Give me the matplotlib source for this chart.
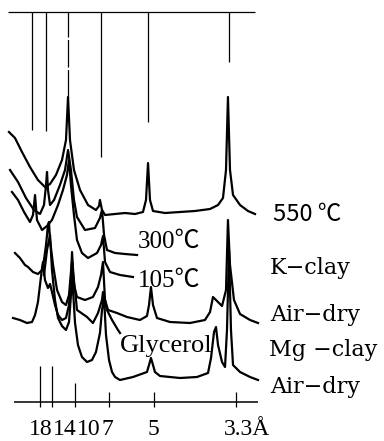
import numpy as np
import matplotlib.pyplot as plt

# XRD patterns (Cu Ka), x = 2theta in degrees, y = stacked intensity (arb. units)
# K-clay 550 C
tt_550 = [1.40, 2.08, 2.87, 3.77, 4.67, 5.46, 6.03, 6.70, 7.38, 7.83, 8.06, 8.28, 8.73, 9.41,
          10.31, 11.21, 11.55, 11.66, 11.89, 12.23, 13.36, 14.48, 15.61, 16.51, 16.85, 17.08,
          17.30, 17.64, 19.00, 20.68, 22.37, 24.07, 24.97, 25.53, 25.87, 26.09, 26.32, 26.66,
          27.45, 28.35, 29.14]
I_550 = [270, 264, 250, 235, 222, 215, 218, 227, 242, 262, 305, 262, 232, 212,
         197, 192, 196, 202, 192, 187, 188, 189, 188, 190, 202, 239,
         202, 191, 189, 190, 191, 193, 197, 204, 232, 305, 232, 207,
         197, 191, 188]

# K-clay 300 C
tt_300 = [1.52, 2.42, 3.32, 4.22, 4.90, 5.35, 5.58, 5.69, 5.80, 6.03, 6.48, 7.15, 7.72, 8.06,
          8.39, 8.73, 9.07, 9.97, 11.10, 11.66, 11.89, 12.12, 12.45, 13.36, 14.48, 15.84]
I_300 = [232, 220, 204, 192, 188, 197, 217, 230, 212, 197, 202, 217, 232, 252,
         232, 202, 185, 172, 174, 184, 192, 167, 152, 149, 148, 147]

# K-clay 105 C
tt_105 = [1.74, 2.42, 3.10, 3.77, 4.11, 4.34, 4.56, 5.13, 5.69, 6.25, 6.93, 7.49, 7.94, 8.17,
          8.39, 8.73, 9.07, 9.63, 10.31, 11.33, 11.78, 12.00, 12.23, 12.79, 13.92, 15.38]
I_105 = [210, 202, 190, 180, 187, 207, 182, 172, 176, 182, 197, 212, 227, 242,
         217, 187, 162, 149, 144, 149, 157, 166, 140, 130, 127, 125]

# K-clay air-dry
tt_K = [1.86, 2.64, 3.43, 4.00, 4.34, 4.67, 4.90, 5.13, 5.24, 5.46, 5.80, 6.03, 6.25, 6.59,
        6.93, 7.38, 7.83, 8.17, 8.39, 8.51, 8.73, 9.07, 9.97, 10.87, 11.44, 11.78, 12.00,
        12.23, 12.57, 13.58, 14.71, 16.17, 16.96, 17.19, 17.41, 17.64, 18.09, 19.56, 21.81,
        23.50, 24.07, 24.40, 24.74, 25.42, 25.87, 26.09, 26.32, 26.77, 27.45, 28.58, 29.48]
I_K = [84, 82, 79, 80, 87, 100, 117, 134, 140, 122, 114, 118, 110, 97,
       87, 82, 84, 97, 122, 150, 117, 105, 102, 105, 115, 127, 140,
       102, 92, 89, 85, 82, 86, 97, 115, 97, 84, 80, 79,
       82, 90, 105, 102, 96, 112, 182, 137, 102, 88, 82, 79]

# Mg-clay glycerol (runs under its label)
tt_gly = [2.08, 2.64, 3.21, 3.55, 4.11, 4.67, 5.13, 5.35, 5.58, 5.80, 5.91, 6.03, 6.37, 6.82,
          7.38, 7.83, 8.17, 8.39, 8.51, 8.62, 8.85, 9.07, 10.20, 10.87, 11.44, 11.89, 12.00,
          12.23, 12.45, 13.02, 13.69, 13.92]
I_gly = [149, 144, 137, 135, 130, 128, 132, 142, 157, 177, 180, 162, 137, 112,
         100, 97, 107, 130, 140, 130, 112, 92, 85, 79, 89, 102, 110,
         102, 92, 82, 72, 69]

# Mg-clay air-dry
tt_Mg = [5.35, 5.69, 6.03, 6.25, 6.59, 6.93, 7.38, 7.83, 8.17, 8.39, 8.51, 8.62, 8.85, 9.18,
         9.63, 10.20, 10.76, 11.21, 11.66, 11.89, 12.12, 12.34, 12.68, 13.02, 13.36, 13.92,
         15.38, 16.96, 17.19, 17.41, 17.64, 17.86, 18.43, 20.68, 22.60, 23.84, 24.18, 24.52,
         24.74, 24.97, 25.42, 25.76, 25.98, 26.21, 26.43, 26.66, 27.45, 28.58, 29.48]
I_Mg = [127, 152, 167, 132, 102, 84, 76, 72, 80, 107, 140, 112, 79, 57,
        45, 40, 42, 50, 69, 92, 104, 67, 42, 30, 25, 22,
        25, 30, 37, 44, 37, 30, 26, 24, 25, 29, 44, 70,
        75, 57, 40, 35, 72, 152, 72, 37, 30, 25, 22]

# reference lines hanging from the top bar
ref_tt = [4.00, 5.58, 8.06, 11.78, 17.08, 26.21]
ref_low = [272, 271, 305, 245, 280, 340]
top_level = 390

# d-spacing ticks on the bottom axis
d_ticks = [18, 14, 10, 7, 5, 3.3]
tick_len = [36, 36, 19, 10, 10, 10]
tick_text = ['18', '14', '10', '7', '5', '3.3Å']

wavelength = 1.5406
tick_tt = [np.degrees(2 * np.arcsin(wavelength / (2 * d))) for d in d_ticks]

W, H = 384, 441
fig = plt.figure(figsize=(W / 100, H / 100), dpi=100)
ax = fig.add_axes([0, 39 / H, 270 / W, 402 / H])
ax.set_xlim(0.39, 30.83)
ax.set_ylim(0, 402)
ax.axis('off')

lw = 1.6
for tt, I in [(tt_550, I_550), (tt_300, I_300), (tt_105, I_105),
              (tt_K, I_K), (tt_gly, I_gly), (tt_Mg, I_Mg)]:
    ax.plot(tt, I, color='black', lw=lw, solid_joinstyle='round')

# top bar + hanging lines
ax.hlines(top_level, 1.29, 29.14, color='black', lw=0.9)
for x, lo in zip(ref_tt, ref_low):
    ls = (0, (22, 2)) if x == 8.06 else '-'
    ax.vlines(x, lo, top_level, color='black', lw=0.9, linestyles=ls)

# bottom axis with d-spacing ticks
ax.hlines(0, 1.97, 29.48, color='black', lw=1.1, clip_on=False)
for x, L in zip(tick_tt, tick_len):
    ax.vlines(x, -5, L, color='black', lw=0.9, clip_on=False)

serif = ['Liberation Serif', 'Noto Sans CJK JP']
wide_serif = ['DejaVu Serif']


def put(s, px, py, **kw):
    fig.text(px / W, 1 - py / H, s, va='baseline', **kw)


label_px = [41, 65, 89, 107, 153.5, 224]
for s, px in zip(tick_text, label_px):
    put(s, px, 435, ha='left' if 'Å' in s else 'center', family=serif, fontsize=17)

put('550 ℃', 273, 221, family=['Noto Sans CJK JP'], fontsize=17)
put('K−clay', 270, 274, family=wide_serif, fontsize=16)
put('Air−dry', 270, 321, family=wide_serif, fontsize=16)
put('Mg −clay', 269, 356, family=wide_serif, fontsize=16)
put('Air−dry', 270, 393, family=wide_serif, fontsize=16)
put('300℃', 138, 248, family=serif, fontsize=18)
put('105℃', 138, 287, family=serif, fontsize=18)
put('Glycerol', 120, 352, family=serif, fontsize=19)

fig.savefig('out.png', dpi=100)
